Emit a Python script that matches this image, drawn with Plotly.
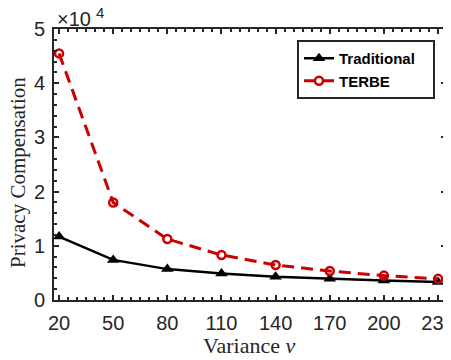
import plotly.graph_objects as go

variance = [20, 50, 80, 110, 140, 170, 200, 230]
traditional = [1.17, 0.74, 0.57, 0.49, 0.43, 0.39, 0.36, 0.33]
terbe = [4.55, 1.80, 1.125, 0.83, 0.646, 0.535, 0.45, 0.39]
x_ticks = [20, 50, 80, 110, 140, 170, 200, 230]
y_ticks = [0, 1, 2, 3, 4, 5]
series_names = ["Traditional", "TERBE"]

# page body has an 8px default margin; work in target (screen) coords and shift
OFF = 8
W, H = 451 - OFF, 360 - OFF
PL, PR, PT, PB = 54, 446, 29, 300  # plot area in screen coords
L, R, T, B = PL - OFF, W - (PR - OFF), PT - OFF, H - (PB - OFF)
PW, PH = PR - PL, PB - PT


def px(x):
    return (x - PL) / PW


def py(y):
    return (PB - y) / PH


AX = "#262626"
RED = "#CC0000"
PAD = "\u00a0\u00a0\u00a0"

fig = go.Figure()
fig.add_trace(go.Scatter(
    x=variance, y=traditional, name=series_names[0] + PAD, mode="lines+markers",
    line=dict(color="black", width=2.5),
    marker=dict(symbol="triangle-up", size=11, color="black"),
))
fig.add_trace(go.Scatter(
    x=variance, y=terbe, name=series_names[1] + PAD, mode="lines+markers",
    line=dict(color=RED, width=3, dash="12px,7px"),
    marker=dict(symbol="circle-open", size=8, color=RED, line=dict(width=2.5, color=RED)),
))

axis_common = dict(
    showline=True, linecolor=AX, linewidth=2, mirror="allticks",
    ticks="inside", ticklen=5, tickwidth=1.5, tickcolor=AX,
    showgrid=False, zeroline=False,
    tickfont=dict(family="Liberation Sans, Arial", size=20, color=AX),
    ticklabeloverflow="allow",
)

fig.update_xaxes(
    range=[17.2, 234.4], tickmode="array", tickvals=x_ticks,
    ticktext=[str(v) for v in x_ticks],
    minor=dict(ticks="inside", dtick=5, tick0=0, ticklen=3, tickwidth=1.5, tickcolor=AX),
    ticklabelstandoff=4,
    **axis_common,
)
fig.update_yaxes(
    range=[0, 5], tickmode="array", tickvals=y_ticks,
    ticktext=[str(v) for v in y_ticks],
    minor=dict(ticks="inside", dtick=0.2, tick0=0, ticklen=3, tickwidth=1.5, tickcolor=AX),
    ticklabelstandoff=3,
    **axis_common,
)

annotations = [
    dict(text="Privacy Compensation", x=px(18), y=py(173), xref="paper", yref="paper",
         textangle=-90, showarrow=False, xanchor="center", yanchor="middle",
         font=dict(family="Liberation Serif, Times New Roman", size=21, color=AX)),
    dict(text="Variance <i>v</i>", x=px(249), y=py(345), xref="paper", yref="paper",
         showarrow=False, xanchor="center", yanchor="middle",
         font=dict(family="Liberation Serif, Times New Roman", size=22, color=AX)),
    dict(text="×10", x=px(55), y=py(19), xref="paper", yref="paper",
         showarrow=False, xanchor="left", yanchor="middle",
         font=dict(family="Liberation Sans, Arial", size=20, color=AX)),
    dict(text="4", x=px(94), y=py(13), xref="paper", yref="paper",
         showarrow=False, xanchor="left", yanchor="middle",
         font=dict(family="Liberation Sans, Arial", size=15, color=AX)),
    dict(text="<b>Figure 7:</b> Privacy Compensation vs. Variance", x=px(8), y=py(355),
         xref="paper", yref="paper", showarrow=False, xanchor="left", yanchor="top",
         font=dict(family="Liberation Serif, Times New Roman", size=20, color="black")),
]

fig.update_layout(
    width=W, height=H,
    margin=dict(l=L, r=R, t=T, b=B, autoexpand=False),
    paper_bgcolor="white", plot_bgcolor="white",
    showlegend=True,
    legend=dict(
        x=px(435), y=py(40), xanchor="right", yanchor="top",
        bgcolor="white", bordercolor=AX, borderwidth=2,
        font=dict(family="Liberation Sans, Arial", size=15, color="black", weight="bold"),
        itemwidth=30, tracegroupgap=0,
    ),
    annotations=annotations,
)

fig.write_html("out.html")
